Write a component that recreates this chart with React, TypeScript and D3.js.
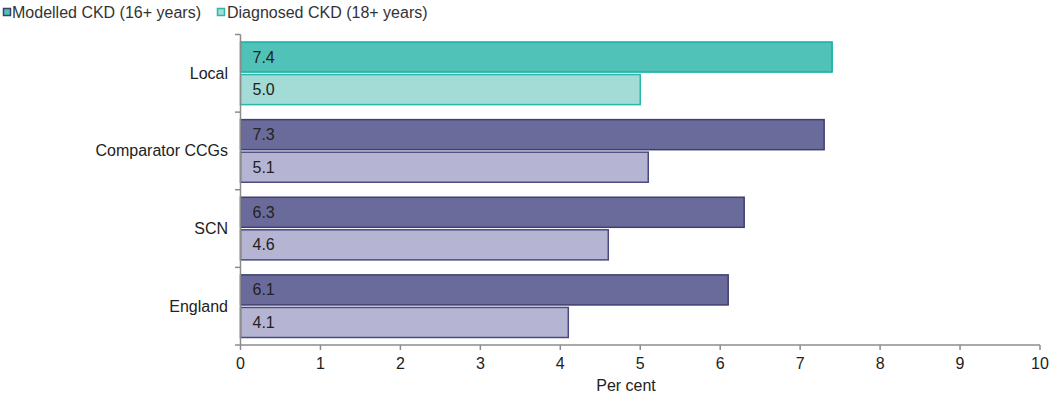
import React from "react";
import * as d3 from "d3";

const categories = ["Local", "Comparator CCGs", "SCN", "England"];
const modelled = [7.4, 7.3, 6.3, 6.1];
const diagnosed = [5.0, 5.1, 4.6, 4.1];
const xTicks = [0, 1, 2, 3, 4, 5, 6, 7, 8, 9, 10];
const legendLabels = ["Modelled CKD (16+ years)", "Diagnosed CKD (18+ years)"];

const W = 1049;
const H = 396;
const FONT = "'Liberation Sans', Arial, sans-serif";
const FS = 16;

// colours: the local area is highlighted in teal, others in purple
const palette = {
  local: { top: "#50c2b8", topStroke: "#10b1a2", bottom: "#a3dbd6", bottomStroke: "#2bb7aa" },
  other: { top: "#6b6b9b", topStroke: "#3e3e72", bottom: "#b5b5d3", bottomStroke: "#4a4a80" },
};

export default function App() {
  const x = d3.scaleLinear().domain([0, 10]).range([240.5, 1040]);
  const y = d3.scaleBand<string>().domain(categories).range([34.5, 345]);
  const bandH = y.bandwidth();
  const padOuter = 7.5;
  const gap = 2.5;
  const barH = (bandH - padOuter * 2 - gap) / 2;
  const axisColor = "#8c8c8c";

  return (
    <svg width={W} height={H} style={{ display: "block", position: "absolute", left: 0, top: 0 }} fontFamily={FONT}>
      {/* legend */}
      <g>
        <rect x={3.5} y={8.5} width={7} height={7} fill="#50c2b8" stroke="#3e3e72" strokeWidth={1.5} />
        <text x={12} y={18} fontSize={FS} fill="#333">{legendLabels[0]}</text>
        <rect x={217.5} y={8.5} width={7} height={7} fill="#a3dbd6" stroke="#2bb7aa" strokeWidth={1.5} />
        <text x={227} y={18} fontSize={FS} fill="#333">{legendLabels[1]}</text>
      </g>

      {/* bars */}
      {categories.map((c, i) => {
        const col = i === 0 ? palette.local : palette.other;
        const y0 = (y(c) as number) + padOuter;
        const y1 = y0 + barH + gap;
        return (
          <g key={c}>
            <rect x={x(0)} y={y0} width={x(modelled[i]) - x(0)} height={barH} fill={col.top} stroke={col.topStroke} strokeWidth={1.5} />
            <text x={x(0) + 12} y={y0 + barH / 2 + 5.5} fontSize={FS} fill="#222">{modelled[i].toFixed(1)}</text>
            <rect x={x(0)} y={y1} width={x(diagnosed[i]) - x(0)} height={barH} fill={col.bottom} stroke={col.bottomStroke} strokeWidth={1.5} />
            <text x={x(0) + 12} y={y1 + barH / 2 + 5.5} fontSize={FS} fill="#222">{diagnosed[i].toFixed(1)}</text>
            <text x={228} y={(y(c) as number) + bandH / 2 + 5.5} fontSize={FS} fill="#222" textAnchor="end">{c}</text>
          </g>
        );
      })}

      {/* y axis */}
      <line x1={240.5} x2={240.5} y1={34.5} y2={345} stroke={axisColor} strokeWidth={1.5} />
      {[...categories.map((c) => y(c) as number), 345].map((v, i) => (
        <line key={i} x1={235} x2={240.5} y1={v} y2={v} stroke={axisColor} strokeWidth={1.5} />
      ))}

      {/* x axis */}
      <line x1={240.5} x2={1040} y1={345} y2={345} stroke={axisColor} strokeWidth={1.5} />
      {xTicks.map((t) => (
        <g key={t}>
          <line x1={x(t)} x2={x(t)} y1={345} y2={350} stroke={axisColor} strokeWidth={1.5} />
          <text x={x(t)} y={369} fontSize={FS} fill="#222" textAnchor="middle">{t}</text>
        </g>
      ))}
      <text x={626} y={391} fontSize={FS} fill="#222" textAnchor="middle">Per cent</text>
    </svg>
  );
}
